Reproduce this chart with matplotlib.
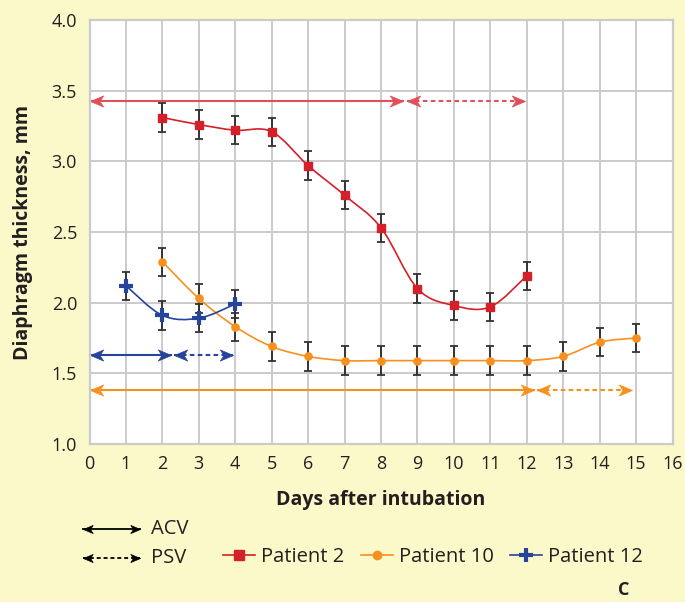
import numpy as np
import matplotlib
matplotlib.use("Agg")
import matplotlib.pyplot as plt
from matplotlib.path import Path
from matplotlib.patches import PathPatch
from matplotlib.lines import Line2D

# ---------------- data ----------------
days_p2 = [2, 3, 4, 5, 6, 7, 8, 9, 10, 11, 12]
thick_p2 = [3.31, 3.26, 3.22, 3.21, 2.97, 2.76, 2.53, 2.10, 1.98, 1.97, 2.19]
err_p2 = [0.1] * len(days_p2)

days_p10 = [2, 3, 4, 5, 6, 7, 8, 9, 10, 11, 12, 13, 14, 15]
thick_p10 = [2.29, 2.03, 1.83, 1.69, 1.62, 1.59, 1.59, 1.59, 1.59, 1.59, 1.59, 1.62, 1.72, 1.75]
err_p10 = [0.1] * len(days_p10)

days_p12 = [1, 2, 3, 4]
thick_p12 = [2.12, 1.91, 1.89, 1.99]
err_p12 = [0.1] * len(days_p12)

# ventilation mode periods: (start day, end day, level)
acv_p2 = (0, 8.6, 3.43)
psv_p2 = (8.7, 11.95, 3.43)
acv_p12 = (0, 2.25, 1.63)
psv_p12 = (2.32, 3.95, 1.63)
acv_p10 = (0, 12.2, 1.38)
psv_p10 = (12.27, 14.9, 1.38)

x_ticks = list(range(0, 17))
y_ticks = [1.0, 1.5, 2.0, 2.5, 3.0, 3.5, 4.0]

# ---------------- style ----------------
BG = "#FBF8CA"
RED = "#D42029"
RED_ARROW = "#E0505A"
ORANGE = "#F7901E"
BLUE = "#26449A"
TXT = "#231F20"
GRID = "#CBCBCB"

plt.rcParams["font.family"] = ["Open Sans", "DejaVu Sans"]

W, H = 685, 602
fig = plt.figure(figsize=(W / 100, H / 100), dpi=100, facecolor=BG)
ax = fig.add_axes([89.5 / W, 1 - 444 / H, 583 / W, 424 / H])
ax.set_facecolor("white")
ax.set_xlim(0, 16)
ax.set_ylim(1.0, 4.0)
ax.set_xticks(x_ticks)
ax.set_yticks(y_ticks)
ax.set_yticklabels([f"{v:.1f}" for v in y_ticks])
ax.tick_params(length=0, labelsize=13, colors=TXT)
ax.tick_params(axis="y", pad=9)
ax.tick_params(axis="x", pad=8)
ax.grid(True, color=GRID, lw=1.4)
ax.set_axisbelow(True)
for s in ax.spines.values():
    s.set_color(GRID)
    s.set_linewidth(1.6)

ax.set_xlabel("Days after intubation", fontsize=14, fontweight="bold", color=TXT)
ax.set_ylabel("Diaphragm thickness, mm", fontsize=14, fontweight="bold", color=TXT)
ax.xaxis.set_label_coords(0.5, -(490 - 444) / 424)
ax.yaxis.set_label_coords(-(89.5 - 33) / 583, 0.5)


def smooth_path(x, y):
    x = np.asarray(x, float)
    y = np.asarray(y, float)
    pts = np.column_stack([x, y])
    n = len(pts)
    verts = [pts[0]]
    codes = [Path.MOVETO]
    for i in range(n - 1):
        p0 = pts[i - 1] if i > 0 else pts[i]
        p1 = pts[i]
        p2 = pts[i + 1]
        p3 = pts[i + 2] if i + 2 < n else pts[i + 1]
        c1 = p1 + (p2 - p0) / 6.0
        c2 = p2 - (p3 - p1) / 6.0
        verts += [c1, c2, p2]
        codes += [Path.CURVE4] * 3
    return Path(verts, codes)


# stealth arrow head marker (tip at origin, pointing right)
stealth_r = Path([(0, 0), (-1.0, 0.42), (-0.72, 0), (-1.0, -0.42), (0, 0)],
                 [Path.MOVETO, Path.LINETO, Path.LINETO, Path.LINETO, Path.CLOSEPOLY])
stealth_l = Path([(0, 0), (1.0, 0.42), (0.72, 0), (1.0, -0.42), (0, 0)],
                 [Path.MOVETO, Path.LINETO, Path.LINETO, Path.LINETO, Path.CLOSEPOLY])


def draw_arrow(add, seg, color, dashed, transform=None, ms=19, lw=1.5):
    x0, x1, yv = seg
    kw = dict(clip_on=False)
    if transform is not None:
        kw["transform"] = transform
    ls = (0, (2.2, 1.6)) if dashed else "-"
    add(Line2D([x0, x1], [yv, yv], color=color, lw=lw, ls=ls, **kw))
    add(Line2D([x0], [yv], marker=stealth_l, ms=ms, color=color, mec=color, mew=0.5, ls="none", **kw))
    add(Line2D([x1], [yv], marker=stealth_r, ms=ms, color=color, mec=color, mew=0.5, ls="none", **kw))


for seg, col, d in [(acv_p2, RED_ARROW, False), (psv_p2, RED_ARROW, True),
                    (acv_p12, BLUE, False), (psv_p12, BLUE, True),
                    (acv_p10, ORANGE, False), (psv_p10, ORANGE, True)]:
    draw_arrow(ax.add_line, seg, col, d)

series = [
    (days_p2, thick_p2, err_p2, RED, "s", 5.6, "Patient 2"),
    (days_p10, thick_p10, err_p10, ORANGE, "o", 5.2, "Patient 10"),
    (days_p12, thick_p12, err_p12, BLUE, "P", 9.5, "Patient 12"),
]

for x, y, e, col, mk, ms, lab in series:
    ax.add_patch(PathPatch(smooth_path(x, y), fill=False, edgecolor=col, lw=1.2, zorder=3))

for x, y, e, col, mk, ms, lab in series:
    ax.errorbar(x, y, yerr=e, fmt="none", ecolor="#333333", elinewidth=1.4, capsize=2.8, capthick=1.3, zorder=4)

for x, y, e, col, mk, ms, lab in series:
    if mk == "P":
        ax.plot(x, y, ls="none", marker="+", ms=ms, mew=3.0, color=col, zorder=5)
    else:
        ax.plot(x, y, ls="none", marker=mk, ms=ms, color=col, mec=col, zorder=5)

# ---------------- legend ----------------
handles = [
    Line2D([], [], color=RED, lw=1.2, marker="s", ms=7.5),
    Line2D([], [], color=ORANGE, lw=1.2, marker="o", ms=6),
    Line2D([], [], color=BLUE, lw=1.2, marker="+", ms=9.5, mew=3.0),
]
fig.legend(handles, ["Patient 2", "Patient 10", "Patient 12"], loc="center left",
           bbox_to_anchor=(223 / W, 1 - 557 / H), ncol=3, frameon=False, fontsize=14.5,
           handlelength=1.6, handletextpad=0.3, columnspacing=0.8,
           labelcolor=TXT, borderaxespad=0, borderpad=0)

draw_arrow(fig.add_artist, (83 / W, 140 / W, 1 - 529 / H), "black", False,
           transform=fig.transFigure, ms=14, lw=1.3)
draw_arrow(fig.add_artist, (83 / W, 140 / W, 1 - 558 / H), "black", True,
           transform=fig.transFigure, ms=14, lw=1.3)
fig.text(151 / W, 1 - 529 / H, "ACV", fontsize=14.5, color=TXT, va="center", ha="left")
fig.text(151 / W, 1 - 558 / H, "PSV", fontsize=14.5, color=TXT, va="center", ha="left")
fig.text(624 / W, 1 - 590 / H, "C", fontsize=13, fontweight="bold", color=TXT, va="center", ha="center")

fig.savefig("out.png", dpi=100, facecolor=BG)
